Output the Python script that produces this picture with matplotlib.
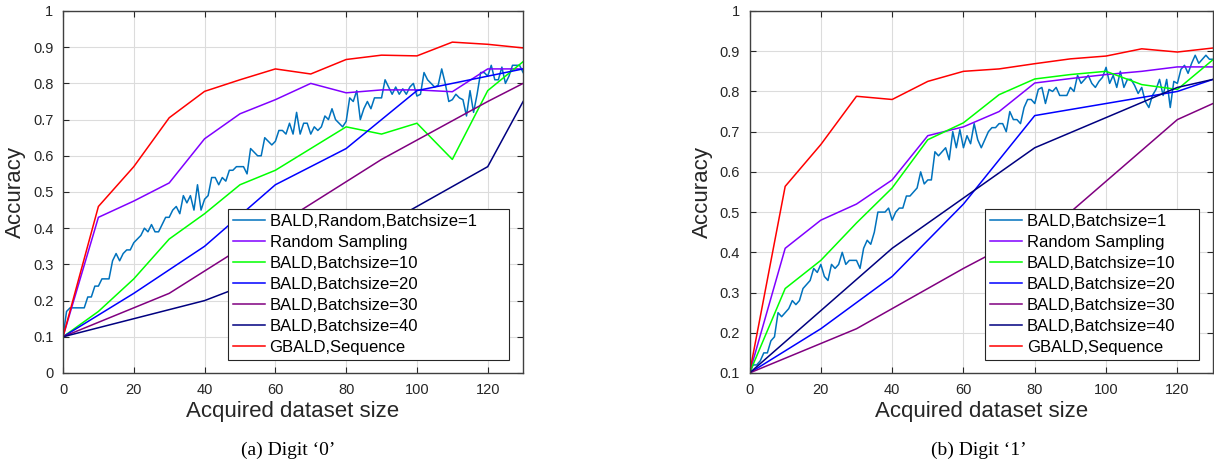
import numpy as np
import matplotlib
matplotlib.use('Agg')
import matplotlib.pyplot as plt

plt.rcParams['font.family'] = ['Liberation Sans', 'DejaVu Sans']

# ---- data: panel (a) Digit '0' ----
a_bald1 = [0.10, 0.17, 0.18, 0.18, 0.18, 0.18, 0.18, 0.21, 0.21, 0.24,
           0.24, 0.26, 0.26, 0.26, 0.31, 0.33, 0.31, 0.33, 0.34, 0.34,
           0.36, 0.37, 0.38, 0.40, 0.39, 0.41, 0.39, 0.39, 0.41, 0.43,
           0.43, 0.45, 0.46, 0.44, 0.49, 0.47, 0.49, 0.45, 0.52, 0.45,
           0.48, 0.49, 0.54, 0.54, 0.52, 0.54, 0.53, 0.56, 0.56, 0.57,
           0.57, 0.57, 0.55, 0.62, 0.61, 0.60, 0.60, 0.65, 0.64, 0.63,
           0.64, 0.67, 0.67, 0.66, 0.69, 0.66, 0.72, 0.66, 0.69, 0.69,
           0.66, 0.68, 0.67, 0.68, 0.71, 0.70, 0.73, 0.70, 0.69, 0.68,
           0.695, 0.76, 0.75, 0.78, 0.70, 0.73, 0.75, 0.73, 0.76, 0.76,
           0.76, 0.81, 0.79, 0.77, 0.79, 0.77, 0.785, 0.77, 0.79, 0.80,
           0.765, 0.77, 0.83, 0.81, 0.80, 0.79, 0.795, 0.84, 0.80, 0.75,
           0.755, 0.77, 0.76, 0.755, 0.71, 0.78, 0.72, 0.77, 0.83, 0.83,
           0.82, 0.85, 0.81, 0.81, 0.845, 0.80, 0.82, 0.85, 0.85, 0.85,
           0.83]
a_x10 = [0, 10, 20, 30, 40, 50, 60, 70, 80, 90, 100, 110, 120, 130]
a_random = [0.10, 0.43, 0.475, 0.525, 0.647, 0.716, 0.755, 0.80, 0.774, 0.782, 0.782, 0.777, 0.84, 0.84]
a_bs10 = [0.10, 0.17, 0.26, 0.37, 0.44, 0.52, 0.56, 0.62, 0.68, 0.66, 0.69, 0.59, 0.78, 0.86]
a_x20 = [0, 20, 40, 60, 80, 100, 120, 130]
a_bs20 = [0.10, 0.22, 0.35, 0.52, 0.62, 0.78, 0.82, 0.84]
a_x30 = [0, 30, 60, 90, 120, 130]
a_bs30 = [0.10, 0.22, 0.405, 0.59, 0.75, 0.80]
a_x40 = [0, 40, 80, 120, 130]
a_bs40 = [0.10, 0.20, 0.35, 0.57, 0.75]
a_gbald = [0.10, 0.46, 0.57, 0.705, 0.778, 0.81, 0.84, 0.826, 0.866, 0.878, 0.876, 0.914, 0.908, 0.898]

# ---- data: panel (b) Digit '1' ----
b_bald1 = [0.10, 0.12, 0.12, 0.13, 0.15, 0.15, 0.18, 0.19, 0.25, 0.24,
           0.25, 0.26, 0.28, 0.27, 0.28, 0.31, 0.32, 0.33, 0.36, 0.35,
           0.37, 0.34, 0.33, 0.37, 0.36, 0.37, 0.40, 0.37, 0.38, 0.38,
           0.38, 0.36, 0.41, 0.43, 0.42, 0.45, 0.50, 0.50, 0.50, 0.51,
           0.48, 0.50, 0.51, 0.51, 0.54, 0.54, 0.55, 0.56, 0.60, 0.57,
           0.58, 0.58, 0.65, 0.64, 0.65, 0.66, 0.63, 0.70, 0.66, 0.705,
           0.66, 0.69, 0.67, 0.72, 0.68, 0.66, 0.68, 0.70, 0.71, 0.71,
           0.72, 0.72, 0.70, 0.75, 0.73, 0.73, 0.72, 0.76, 0.78, 0.78,
           0.77, 0.805, 0.81, 0.77, 0.805, 0.80, 0.81, 0.79, 0.79, 0.79,
           0.81, 0.80, 0.84, 0.82, 0.83, 0.84, 0.82, 0.81, 0.825, 0.835,
           0.86, 0.82, 0.84, 0.81, 0.85, 0.81, 0.83, 0.83, 0.815, 0.795,
           0.81, 0.775, 0.76, 0.79, 0.805, 0.83, 0.79, 0.83, 0.76, 0.825,
           0.82, 0.855, 0.865, 0.845, 0.87, 0.89, 0.87, 0.88, 0.89, 0.88,
           0.88]
b_x10 = a_x10
b_random = [0.10, 0.41, 0.48, 0.52, 0.58, 0.69, 0.712, 0.75, 0.821, 0.832, 0.842, 0.85, 0.861, 0.861]
b_bs10 = [0.10, 0.31, 0.38, 0.473, 0.56, 0.68, 0.722, 0.792, 0.831, 0.842, 0.85, 0.817, 0.805, 0.879]
b_x20 = a_x20
b_bs20 = [0.10, 0.21, 0.34, 0.52, 0.74, 0.77, 0.80, 0.83]
b_x30 = a_x30
b_bs30 = [0.10, 0.21, 0.36, 0.50, 0.73, 0.77]
b_x40 = a_x40
b_bs40 = [0.10, 0.41, 0.66, 0.81, 0.83]
b_gbald = [0.10, 0.564, 0.668, 0.788, 0.78, 0.825, 0.85, 0.856, 0.869, 0.881, 0.888, 0.906, 0.898, 0.908]

captions = ["(a) Digit \u20180\u2019", "(b) Digit \u20181\u2019"]

colors = ['#0072BD', '#8000FF', '#00FF00', '#0000FF', '#800080', '#000080', '#FF0000']

# MATLAB legends leave a wide gap after the text
pad = '      '


def draw_panel(ax, bald1, x10, random_s, bs10, x20, bs20, x30, bs30, x40, bs40, gbald, first_label, ymin):
    lw = 1.1
    ax.plot(np.arange(len(bald1)), bald1, color=colors[0], lw=lw, label=first_label + pad)
    ax.plot(x10, random_s, color=colors[1], lw=lw, label='Random Sampling')
    ax.plot(x10, bs10, color=colors[2], lw=lw, label='BALD,Batchsize=10')
    ax.plot(x20, bs20, color=colors[3], lw=lw, label='BALD,Batchsize=20')
    ax.plot(x30, bs30, color=colors[4], lw=lw, label='BALD,Batchsize=30')
    ax.plot(x40, bs40, color=colors[5], lw=lw, label='BALD,Batchsize=40')
    ax.plot(x10, gbald, color=colors[6], lw=lw, label='GBALD,Sequence')

    ax.set_xlim(0, 130)
    ax.set_ylim(ymin, 1)
    ax.set_xticks(np.arange(0, 121, 20))
    yt = np.round(np.arange(ymin, 1.001, 0.1), 1)
    ax.set_yticks(yt)
    ax.set_yticklabels(['%g' % v for v in yt])
    ax.grid(True, color='#dcdcdc', lw=0.8)
    ax.set_axisbelow(True)
    ax.tick_params(direction='in', top=True, right=True, length=4,
                   labelsize=10.5, colors='#262626', labelcolor='#262626', pad=7)
    for s in ax.spines.values():
        s.set_color('#404040')
        s.set_linewidth(1.0)
    ax.set_xlabel('Acquired dataset size', fontsize=16, color='#262626', labelpad=3)
    ax.set_ylabel('Accuracy', fontsize=16, color='#262626', labelpad=5)
    leg = ax.legend(loc='lower right', bbox_to_anchor=(0.97, 0.036), fontsize=12,
                    frameon=True, fancybox=False, framealpha=1, edgecolor='#262626',
                    handlelength=1.9, handletextpad=0.3, labelspacing=0.36,
                    borderpad=0.3, borderaxespad=0)
    leg.get_frame().set_linewidth(0.8)


fig = plt.figure(figsize=(12.14, 4.68), dpi=100)
ax1 = fig.add_axes([0.0519, 0.203, 0.379, 0.7735])
ax2 = fig.add_axes([0.6174, 0.203, 0.3818, 0.7735])

draw_panel(ax1, a_bald1, a_x10, a_random, a_bs10, a_x20, a_bs20, a_x30, a_bs30,
           a_x40, a_bs40, a_gbald, 'BALD,Random,Batchsize=1', 0.0)
draw_panel(ax2, b_bald1, b_x10, b_random, b_bs10, b_x20, b_bs20, b_x30, b_bs30,
           b_x40, b_bs40, b_gbald, 'BALD,Batchsize=1', 0.1)

fig.text(0.237, 1 - 450 / 468, captions[0], ha='center', va='center',
         fontsize=14, family='Liberation Serif')
fig.text(0.806, 1 - 450 / 468, captions[1], ha='center', va='center',
         fontsize=14, family='Liberation Serif')

fig.savefig('out.png', dpi=100)
